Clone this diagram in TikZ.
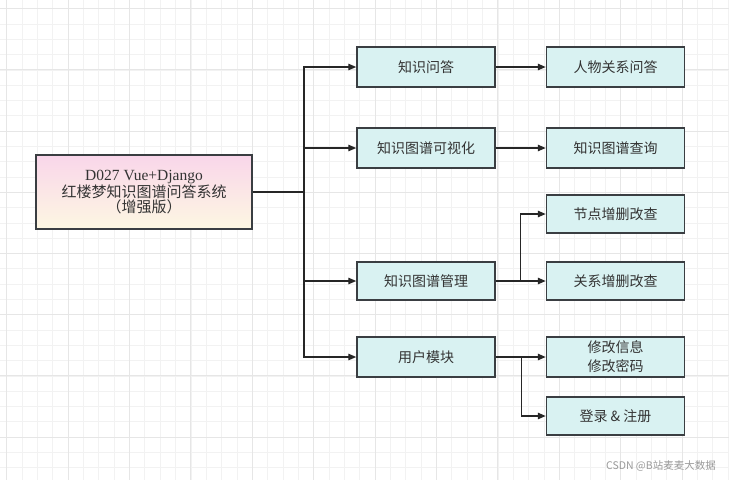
\documentclass[tikz,border=0pt]{standalone}
\usepackage{fontspec}
\setmainfont{Liberation Serif}
\newfontfamily\cjk{Noto Sans CJK SC}
\usetikzlibrary{arrows.meta}
\definecolor{boxfill}{HTML}{D9F2F2}
\definecolor{boxline}{HTML}{3A3E42}
\definecolor{txt}{HTML}{333333}
\definecolor{gridminor}{HTML}{F2F2F2}
\definecolor{gridmajor}{HTML}{E6E6E6}
\definecolor{maintop}{HTML}{F9D6EA}
\definecolor{mainbot}{HTML}{FDF7E2}
\begin{document}
\begin{tikzpicture}[x=1pt,y=-1pt,
  box/.style={draw=boxline,line width=1.5pt,fill=boxfill,minimum width=138pt,minimum height=40pt,inner sep=0pt,text=txt,font=\cjk\fontsize{14}{18}\selectfont,align=center},
  mainbox/.style={draw=boxline,line width=1.5pt,top color=maintop,bottom color=mainbot,minimum width=216pt,minimum height=74pt,inner sep=0pt,text=txt,align=center},
  arr/.style={draw=black!85,line width=1.3pt,-{Triangle[length=8pt,width=6.5pt]}}
]
\useasboundingbox (0,0) rectangle (729,480);
\fill[white] (0,0) rectangle (729,480);
% grid
\foreach \i in {0,...,47} {
  \pgfmathsetmacro{\xx}{6.7+15.35*\i}
  \draw[gridminor,line width=0.8pt] (\xx,0) -- (\xx,480);
}
\foreach \i in {0,...,31} {
  \pgfmathsetmacro{\yy}{8.7+15.3*\i}
  \draw[gridminor,line width=0.8pt] (0,\yy) -- (729,\yy);
}
\foreach \i in {0,...,11} {
  \pgfmathsetmacro{\xx}{6.7+61.4*\i}
  \draw[gridmajor,line width=1pt] (\xx,0) -- (\xx,480);
}
\foreach \i in {0,...,7} {
  \pgfmathsetmacro{\yy}{8.7+61.2*\i}
  \draw[gridmajor,line width=1pt] (0,\yy) -- (729,\yy);
}
% nodes
\node[mainbox] (main) at (144,192) {{\fontsize{15.5}{19.5}\selectfont D027 Vue+Django}\\{\cjk\fontsize{15}{19.5}\selectfont 红楼梦知识图谱问答系统}\\{\cjk\fontsize{15}{19.5}\selectfont （增强版）}};
\node[box] (qa) at (426,67) {知识问答};
\node[box] (vis) at (426,148) {知识图谱可视化};
\node[box,minimum height=38pt] (mgmt) at (426,281) {知识图谱管理};
\node[box] (user) at (426,357) {用户模块};
\node[box] (rel) at (615.5,67) {人物关系问答};
\node[box] (query) at (615.5,148) {知识图谱查询};
\node[box,minimum height=38pt] (node) at (615.5,214) {节点增删改查};
\node[box,minimum height=38pt] (edge) at (615.5,281) {关系增删改查};
\node[box,font=\cjk\fontsize{14}{19}\selectfont] (info) at (615.5,357) {修改信息\\修改密码};
\node[box,minimum height=38pt] (login) at (615.5,416) {登录 \& 注册};
% connectors
\coordinate (trunk) at (304,192);
\draw[draw=black!85,line width=1.3pt] (main.east) -- (trunk);
\draw[arr] (trunk) |- (qa.west);
\draw[arr] (trunk) |- (vis.west);
\draw[arr] (trunk) |- (mgmt.west);
\draw[arr] (trunk) |- (user.west);
\draw[arr] (qa.east) -- (rel.west);
\draw[arr] (vis.east) -- (query.west);
\draw[arr] (mgmt.east) -- (edge.west);
\draw[arr] (mgmt.east) -- ++(25,0) |- (node.west);
\draw[arr] (user.east) -- (info.west);
\draw[arr] (user.east) -- ++(26,0) |- (login.west);
% footer
\node[anchor=east,text=black!40,font=\cjk\fontsize{10.5}{12}\selectfont,inner sep=0pt] (footer) at (716,466) {CSDN @B站麦麦大数据};
\end{tikzpicture}
\end{document}
